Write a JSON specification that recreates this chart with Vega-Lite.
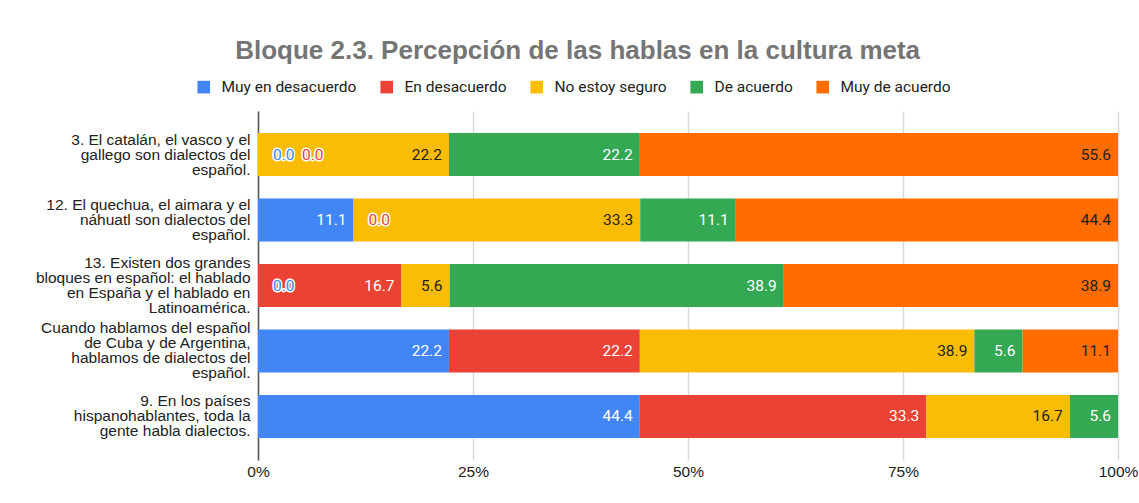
{
  "$schema": "https://vega.github.io/schema/vega-lite/v6.json",
  "width": 860,
  "height": 349,
  "autosize": {"type": "none"},
  "padding": {"left": 258, "top": 111, "right": 21, "bottom": 43},
  "background": "white",
  "title": {
    "text": "Bloque 2.3. Percepción de las hablas en la cultura meta",
    "anchor": "middle",
    "frame": "bounds",
    "font": "Liberation Sans",
    "fontSize": 26,
    "fontWeight": "bold",
    "color": "#757575",
    "offset": 15,
    "dx": -9
  },
  "data": {
    "values": [
      {"enunciado": "3. El catalán, el vasco y el\ngallego son dialectos del\nespañol.", "respuesta": "Muy en desacuerdo", "valor": 0.0},
      {"enunciado": "3. El catalán, el vasco y el\ngallego son dialectos del\nespañol.", "respuesta": "En desacuerdo", "valor": 0.0},
      {"enunciado": "3. El catalán, el vasco y el\ngallego son dialectos del\nespañol.", "respuesta": "No estoy seguro", "valor": 22.2},
      {"enunciado": "3. El catalán, el vasco y el\ngallego son dialectos del\nespañol.", "respuesta": "De acuerdo", "valor": 22.2},
      {"enunciado": "3. El catalán, el vasco y el\ngallego son dialectos del\nespañol.", "respuesta": "Muy de acuerdo", "valor": 55.6},
      {"enunciado": "12. El quechua, el aimara y el\nnáhuatl son dialectos del\nespañol.", "respuesta": "Muy en desacuerdo", "valor": 11.1},
      {"enunciado": "12. El quechua, el aimara y el\nnáhuatl son dialectos del\nespañol.", "respuesta": "En desacuerdo", "valor": 0.0},
      {"enunciado": "12. El quechua, el aimara y el\nnáhuatl son dialectos del\nespañol.", "respuesta": "No estoy seguro", "valor": 33.3},
      {"enunciado": "12. El quechua, el aimara y el\nnáhuatl son dialectos del\nespañol.", "respuesta": "De acuerdo", "valor": 11.1},
      {"enunciado": "12. El quechua, el aimara y el\nnáhuatl son dialectos del\nespañol.", "respuesta": "Muy de acuerdo", "valor": 44.4},
      {"enunciado": "13. Existen dos grandes\nbloques en español: el hablado\nen España y el hablado en\nLatinoamérica.", "respuesta": "Muy en desacuerdo", "valor": 0.0},
      {"enunciado": "13. Existen dos grandes\nbloques en español: el hablado\nen España y el hablado en\nLatinoamérica.", "respuesta": "En desacuerdo", "valor": 16.7},
      {"enunciado": "13. Existen dos grandes\nbloques en español: el hablado\nen España y el hablado en\nLatinoamérica.", "respuesta": "No estoy seguro", "valor": 5.6},
      {"enunciado": "13. Existen dos grandes\nbloques en español: el hablado\nen España y el hablado en\nLatinoamérica.", "respuesta": "De acuerdo", "valor": 38.9},
      {"enunciado": "13. Existen dos grandes\nbloques en español: el hablado\nen España y el hablado en\nLatinoamérica.", "respuesta": "Muy de acuerdo", "valor": 38.9},
      {"enunciado": "Cuando hablamos del español\nde Cuba y de Argentina,\nhablamos de dialectos del\nespañol.", "respuesta": "Muy en desacuerdo", "valor": 22.2},
      {"enunciado": "Cuando hablamos del español\nde Cuba y de Argentina,\nhablamos de dialectos del\nespañol.", "respuesta": "En desacuerdo", "valor": 22.2},
      {"enunciado": "Cuando hablamos del español\nde Cuba y de Argentina,\nhablamos de dialectos del\nespañol.", "respuesta": "No estoy seguro", "valor": 38.9},
      {"enunciado": "Cuando hablamos del español\nde Cuba y de Argentina,\nhablamos de dialectos del\nespañol.", "respuesta": "De acuerdo", "valor": 5.6},
      {"enunciado": "Cuando hablamos del español\nde Cuba y de Argentina,\nhablamos de dialectos del\nespañol.", "respuesta": "Muy de acuerdo", "valor": 11.1},
      {"enunciado": "9. En los países\nhispanohablantes, toda la\ngente habla dialectos.", "respuesta": "Muy en desacuerdo", "valor": 44.4},
      {"enunciado": "9. En los países\nhispanohablantes, toda la\ngente habla dialectos.", "respuesta": "En desacuerdo", "valor": 33.3},
      {"enunciado": "9. En los países\nhispanohablantes, toda la\ngente habla dialectos.", "respuesta": "No estoy seguro", "valor": 16.7},
      {"enunciado": "9. En los países\nhispanohablantes, toda la\ngente habla dialectos.", "respuesta": "De acuerdo", "valor": 5.6}
    ]
  },
  "transform": [
    {"calculate": "indexof(['Muy en desacuerdo','En desacuerdo','No estoy seguro','De acuerdo','Muy de acuerdo'], datum.respuesta)", "as": "k"},
    {"stack": "valor", "groupby": ["enunciado"], "sort": [{"field": "k", "order": "ascending"}], "offset": "normalize", "as": ["v0", "v1"]}
  ],
  "encoding": {
    "y": {
      "field": "enunciado",
      "type": "nominal",
      "sort": null,
      "title": null,
      "scale": {"paddingInner": 0.343, "paddingOuter": 0.336},
      "axis": {
        "labelExpr": "split(datum.value, '\\n')",
        "labelFont": "Liberation Sans",
        "labelFontSize": 15.5,
        "labelColor": "#222222",
        "labelLineHeight": 15,
        "labelPadding": 8,
        "labelLimit": 300,
        "labelOffset": {"condition": {"test": "length(split(datum.value, '\\n')) == 4", "value": -22.5}, "value": -15},
        "ticks": false,
        "domain": true,
        "domainColor": "#555555",
        "domainWidth": 1.5,
        "grid": false
      }
    }
  },
  "layer": [
    {
      "mark": {"type": "bar"},
      "encoding": {
        "x": {
          "field": "v0",
          "type": "quantitative",
          "scale": {"domain": [0, 1], "nice": false},
          "title": null,
          "axis": {
            "values": [0, 0.25, 0.5, 0.75, 1],
            "format": ".0%",
            "labelFont": "Liberation Sans",
            "labelFontSize": 15.5,
            "labelColor": "#222222",
            "labelPadding": 4,
            "labelFlush": false,
            "ticks": false,
            "domain": false,
            "grid": true,
            "gridColor": "#d9d9d9",
            "gridWidth": 1.5
          }
        },
        "x2": {"field": "v1"},
        "color": {
          "field": "respuesta",
          "type": "nominal",
          "sort": ["Muy en desacuerdo", "En desacuerdo", "No estoy seguro", "De acuerdo", "Muy de acuerdo"],
          "scale": {
            "domain": ["Muy en desacuerdo", "En desacuerdo", "No estoy seguro", "De acuerdo", "Muy de acuerdo"],
            "range": ["#4285F4", "#EA4335", "#FBBC04", "#34A853", "#FF6D01"]
          },
          "legend": {
            "title": null,
            "orient": "none",
            "direction": "horizontal",
            "columns": 5,
            "legendX": -62,
            "legendY": -32,
            "symbolType": "square",
            "symbolSize": 160,
            "symbolStrokeWidth": 0,
            "labelFont": "Roboto",
            "labelFontSize": 15.5,
            "labelColor": "#222222",
            "labelOffset": 10,
            "columnPadding": 22,
            "labelLimit": 300
          }
        }
      }
    },
    {
      "transform": [{"filter": "datum.valor > 0"}],
      "mark": {"type": "text", "align": "right", "baseline": "middle", "dx": -7, "font": "Roboto", "fontSize": 15.5},
      "encoding": {
        "x": {"field": "v1", "type": "quantitative"},
        "text": {"field": "valor", "type": "quantitative", "format": ".1f"},
        "color": {
          "condition": {"test": "datum.respuesta == 'No estoy seguro' || datum.respuesta == 'Muy de acuerdo'", "value": "#1f1f1f"},
          "value": "#ffffff"
        }
      }
    },
    {
      "transform": [
        {"filter": "datum.valor == 0"},
        {"window": [{"op": "row_number", "as": "rk"}], "groupby": ["enunciado"], "sort": [{"field": "k"}]},
        {"filter": "datum.rk == 1"}
      ],
      "mark": {"type": "text", "align": "left", "baseline": "middle", "dx": 15, "font": "Roboto", "fontSize": 15.5, "stroke": "white", "strokeWidth": 3, "fill": "white"},
      "encoding": {
        "x": {"field": "v0", "type": "quantitative"},
        "text": {"field": "valor", "type": "quantitative", "format": ".1f"}
      }
    },
    {
      "transform": [
        {"filter": "datum.valor == 0"},
        {"window": [{"op": "row_number", "as": "rk"}], "groupby": ["enunciado"], "sort": [{"field": "k"}]},
        {"filter": "datum.rk == 1"}
      ],
      "mark": {"type": "text", "align": "left", "baseline": "middle", "dx": 15, "font": "Roboto", "fontSize": 15.5},
      "encoding": {
        "x": {"field": "v0", "type": "quantitative"},
        "text": {"field": "valor", "type": "quantitative", "format": ".1f"},
        "color": {
          "condition": {"test": "datum.respuesta == 'Muy en desacuerdo'", "value": "#4285F4"},
          "value": "#EA4335"
        }
      }
    },
    {
      "transform": [
        {"filter": "datum.valor == 0"},
        {"window": [{"op": "row_number", "as": "rk"}], "groupby": ["enunciado"], "sort": [{"field": "k"}]},
        {"filter": "datum.rk == 2"}
      ],
      "mark": {"type": "text", "align": "left", "baseline": "middle", "dx": 44, "font": "Roboto", "fontSize": 15.5, "stroke": "white", "strokeWidth": 3, "fill": "white"},
      "encoding": {
        "x": {"field": "v0", "type": "quantitative"},
        "text": {"field": "valor", "type": "quantitative", "format": ".1f"}
      }
    },
    {
      "transform": [
        {"filter": "datum.valor == 0"},
        {"window": [{"op": "row_number", "as": "rk"}], "groupby": ["enunciado"], "sort": [{"field": "k"}]},
        {"filter": "datum.rk == 2"}
      ],
      "mark": {"type": "text", "align": "left", "baseline": "middle", "dx": 44, "font": "Roboto", "fontSize": 15.5},
      "encoding": {
        "x": {"field": "v0", "type": "quantitative"},
        "text": {"field": "valor", "type": "quantitative", "format": ".1f"},
        "color": {
          "condition": {"test": "datum.respuesta == 'Muy en desacuerdo'", "value": "#4285F4"},
          "value": "#EA4335"
        }
      }
    }
  ],
  "config": {
    "view": {"stroke": null},
    "axis": {"labelFont": "Liberation Sans"}
  }
}
